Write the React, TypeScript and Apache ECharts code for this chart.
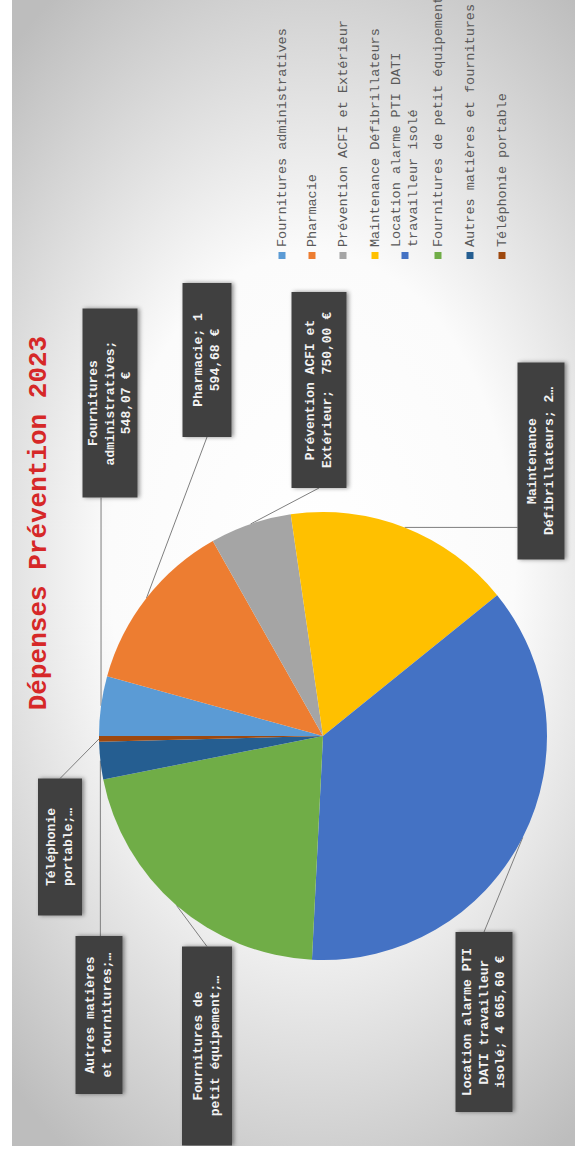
import React, { useEffect, useRef } from "react";
import * as echarts from "echarts";

// ---------- data ----------
const chartTitle = "Dépenses Prévention 2023";

const categories = [
  "Fournitures administratives",
  "Pharmacie",
  "Prévention ACFI et Extérieur",
  "Maintenance Défibrillateurs",
  "Location alarme PTI DATI travailleur isolé",
  "Fournitures de petit équipement",
  "Autres matières et fournitures",
  "Téléphonie portable",
];

const values = [548.07, 1594.68, 750.0, 2100, 4665.6, 2690, 343, 53];

const calloutTexts = [
  "Fournitures\nadministratives;\n548,07 €",
  "Pharmacie; 1\n594,68 €",
  "Prévention ACFI et\nExtérieur;  750,00 €",
  "Maintenance\nDéfibrillateurs; 2…",
  "Location alarme PTI\nDATI travailleur\nisolé; 4 665,60 €",
  "Fournitures de\npetit équipement;…",
  "Autres matières\net fournitures;…",
  "Téléphonie\nportable;…",
];

const legendTexts = [
  "Fournitures administratives",
  "Pharmacie",
  "Prévention ACFI et Extérieur",
  "Maintenance Défibrillateurs",
  "Location alarme PTI DATI\ntravailleur isolé",
  "Fournitures de petit équipement",
  "Autres matières et fournitures",
  "Téléphonie portable",
];

const sliceColors = [
  "#5B9BD5",
  "#ED7D31",
  "#A5A5A5",
  "#FFC000",
  "#4472C4",
  "#70AD47",
  "#255E91",
  "#9E480E",
];

// ---------- layout (chart drawn landscape, then turned a quarter left) ----------
const CHART_W = 1160;
const CHART_H = 600;
const PIE_CENTER = [410, 311];
const PIE_RADIUS = 224;
const LABEL_LH = 16.5;

const calloutBoxes = [
  { cx: 743, cy: 98, w: 189, h: 55, side: "left" },
  { cx: 786, cy: 195, w: 154, h: 49, side: "left" },
  { cx: 756, cy: 307, w: 196, h: 55, side: "left" },
  { cx: 685, cy: 529, w: 197, h: 47, side: "top" },
  { cx: 124, cy: 472, w: 180, h: 57, side: "right" },
  { cx: 100, cy: 195, w: 199, h: 50, side: "right" },
  { cx: 131, cy: 87, w: 158, h: 47, side: "right" },
  { cx: 299, cy: 48, w: 137, h: 44, side: "right" },
];

const LEGEND_LEFT = 887;
const LEGEND_LH = 16.7;
// centre of the first text line of each legend row
const legendRowCenters = [270, 300, 331, 363, 393, 426, 458, 490];

function buildOption(): any {
  const data = categories.map((name, i) => {
    const b = calloutBoxes[i];
    const nLines = calloutTexts[i].split("\n").length;
    const pv = Math.max(0, (b.h - nLines * LABEL_LH) / 2);
    return {
      name,
      value: values[i],
      itemStyle: { color: sliceColors[i] },
      label: { width: b.w, padding: [pv, 0, pv, 0] },
    };
  });

  const legends = categories.map((name, i) => {
    const extra = legendTexts[i].split("\n").length - 1;
    // push extra lines below the first one so the marker stays on line one
    const padTop = extra * LEGEND_LH;
    const blockH = (extra + 1) * LEGEND_LH + padTop;
    return {
      data: [name],
      orient: "vertical",
      left: LEGEND_LEFT,
      top: legendRowCenters[i] - blockH / 2,
      padding: 0,
      itemGap: 0,
      itemWidth: 7,
      itemHeight: 7,
      icon: "rect",
      selectedMode: false,
      formatter: (n: string) => legendTexts[categories.indexOf(n)],
      textStyle: {
        fontFamily: "Liberation Mono",
        fontSize: 13.5,
        lineHeight: LEGEND_LH,
        color: "#595959",
        padding: [padTop, 0, 0, 0],
      },
    };
  });

  return {
    animation: false,
    backgroundColor: "transparent",
    legend: legends,
    graphic: [
      {
        type: "text",
        x: 623,
        y: 27,
        silent: true,
        style: {
          text: chartTitle,
          fontFamily: "Liberation Mono",
          fontWeight: "bold",
          fontSize: 26,
          fill: "#D62828",
          align: "center",
          verticalAlign: "middle",
        },
      },
    ],
    series: [
      {
        type: "pie",
        center: PIE_CENTER,
        radius: PIE_RADIUS,
        startAngle: 90,
        clockwise: true,
        avoidLabelOverlap: false,
        silent: true,
        emphasis: { disabled: true },
        data,
        itemStyle: { borderWidth: 0 },
        label: {
          show: true,
          position: "outside",
          overflow: "none",
          formatter: (p: any) => calloutTexts[p.dataIndex],
          color: "#F2F2F2",
          fontFamily: "Liberation Mono",
          fontWeight: "bold",
          fontSize: 13,
          lineHeight: LABEL_LH,
          align: "center",
          backgroundColor: "#404040",
          shadowColor: "rgba(0,0,0,0.45)",
          shadowBlur: 4,
          shadowOffsetY: 2,
        },
        labelLine: {
          show: true,
          length: 10,
          length2: 10,
          smooth: false,
          lineStyle: { color: "#7F7F7F", width: 1 },
        },
        labelLayout: (params: any) => {
          const i = params.dataIndex;
          const b = calloutBoxes[i];
          const x0 = b.cx - b.w / 2;
          const x1 = b.cx + b.w / 2;
          const y0 = b.cy - b.h / 2;
          const y1 = b.cy + b.h / 2;
          const pts = params.labelLinePoints;
          const res: any = {
            x: b.cx,
            y: b.cy,
            align: "center",
            verticalAlign: "middle",
            hideOverlap: false,
          };
          if (pts && pts.length) {
            const p0 = pts[0];
            let ax = b.cx;
            let ay = b.cy;
            if (b.side === "left" || b.side === "right") {
              ax = b.side === "left" ? x0 : x1;
              ay = p0[1] >= y0 && p0[1] <= y1 ? p0[1] : b.cy;
            } else {
              ay = b.side === "top" ? y0 : y1;
              ax = p0[0] >= x0 && p0[0] <= x1 ? p0[0] : b.cx;
            }
            res.labelLinePoints = [
              [p0[0], p0[1]],
              [ax, ay],
              [ax, ay],
            ];
          }
          return res;
        },
      },
    ],
  };
}

export default function App() {
  const ref = useRef<HTMLDivElement>(null);

  useEffect(() => {
    if (!ref.current) return;
    const chart = echarts.init(ref.current, null, {
      renderer: "svg",
      width: CHART_W,
      height: CHART_H,
    });
    chart.setOption(buildOption());
    return () => {
      chart.dispose();
    };
  }, []);

  return (
    <div
      style={{
        position: "absolute",
        left: 0,
        top: 0,
        width: 575,
        height: 1156,
        overflow: "hidden",
        background: "#ffffff",
      }}
    >
      <div
        ref={ref}
        style={{
          position: "absolute",
          left: 0,
          top: 0,
          width: CHART_W,
          height: CHART_H,
          transformOrigin: "0 0",
          transform: "translate(12px, 1146px) rotate(-90deg)",
          background:
            "radial-gradient(ellipse 60% 75% at 50% 50%, #ffffff 0%, #fbfbfb 45%, #bdbdbd 100%)",
        }}
      />
    </div>
  );
}
